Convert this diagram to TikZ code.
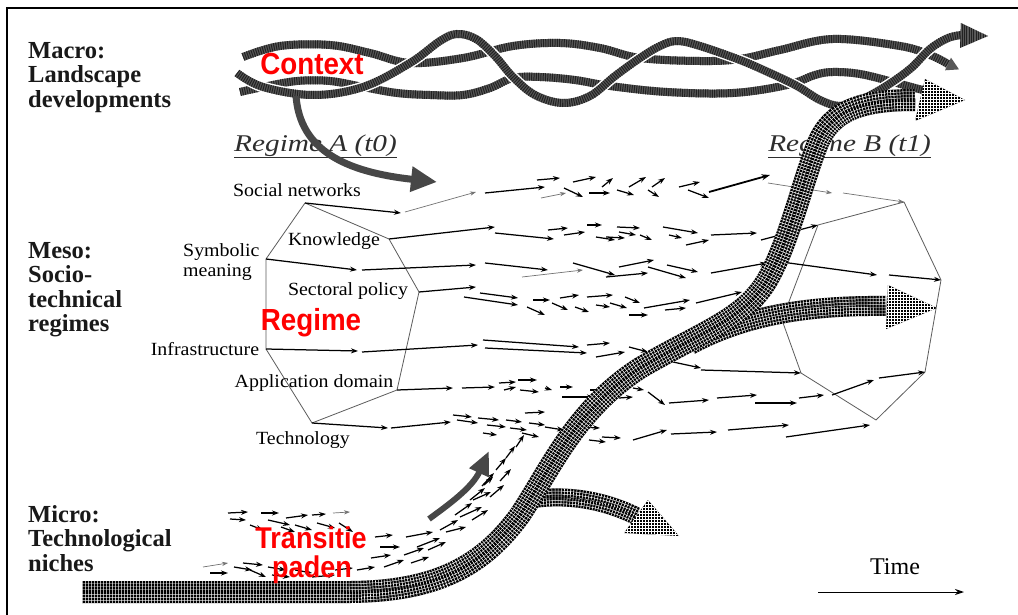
\documentclass[tikz,border=0pt]{standalone}
\usepackage{fontspec}
\setmainfont{Liberation Serif}
\newfontfamily\tagfont{Liberation Sans}
\usetikzlibrary{arrows.meta}

\definecolor{ropebase}{HTML}{575757}
\definecolor{ropeline}{HTML}{222222}
\definecolor{edgegray}{HTML}{5C5C5C}
\definecolor{cuegray}{HTML}{474747}
\definecolor{tagred}{HTML}{FF0000}
\definecolor{inkgray}{HTML}{2E2E2E}

\tikzset{
  levelname/.style={anchor=north west, inner sep=0pt, align=left, text=black!90,
    font=\bfseries\fontsize{24.5}{24.5}\selectfont},
  facet/.style={inner sep=0pt, xscale=1.07, font=\fontsize{18.6}{20}\selectfont},
  regimename/.style={anchor=base west, inner sep=0pt, xscale=1.22, text=inkgray,
    font=\itshape\fontsize{24}{26}\selectfont},
  tag/.style={anchor=base, inner sep=0pt, text=tagred, xscale=0.91,
    font=\tagfont\bfseries\fontsize{30.5}{30}\selectfont},
  bigtag/.style={anchor=base, inner sep=0pt, text=tagred, xscale=0.9,
    font=\tagfont\bfseries\fontsize{30}{30}\selectfont},
  regedge/.style={draw=edgegray, line width=0.8pt, line join=round},
  flow/.style={line width=1.25pt, -{Stealth[length=7pt,width=5pt]}},
  flowthin/.style={line width=0.7pt, draw=black!55, -{Stealth[length=6pt,width=4.2pt]}},
  flowbold/.style={line width=1.8pt, -{Stealth[length=8.5pt,width=6pt]}},
  cue/.style={draw=cuegray, line width=7pt, -{Triangle[width=24pt,length=26pt]}},
  timearrow/.style={line width=1pt, -{Stealth[length=9pt,width=6pt]}},
}

% a landscape strand: white halo, grey body, dark cross-hatching
\newcommand\braid[1]{%
  \draw[white, line width=11pt] #1;
  \draw[ropebase, line width=8pt] #1;
  \draw[ropeline, line width=8pt, dash pattern=on 1pt off 1.3pt] #1;
}
% a niche band: black body with a fine white grid
\newcommand\gridband[2]{%
  \draw[line width=#1, black] #2;
  \draw[line width={#1-5pt}, white] #2;
  \draw[line width={#1-6pt}, black] #2;
  \draw[line width={#1-11pt}, white] #2;
  \draw[line width={#1-12pt}, black] #2;
  \draw[line width={#1-17pt}, white] #2;
  \draw[line width={#1-18pt}, black] #2;
  \draw[line width=#1, white, dash pattern=on 0.55pt off 2.45pt] #2;
}
% a niche arrowhead with the same grid
\newcommand\gridhead[3]{%
  \fill[black] #1 -- #2 -- #3 -- cycle;
  \begin{scope}
    \clip #1 -- #2 -- #3 -- cycle;
    \draw[white, line width=0.5pt, step=3pt] (0,0) grid (1018,615);
  \end{scope}
}

\begin{document}
\begin{tikzpicture}[x=1pt,y=-1pt]
\useasboundingbox (0,0) rectangle (1018,615);
\fill[white] (0,0) rectangle (1018,615);

% outer frame
\coordinate (fbl) at (7,615);
\coordinate (ftl) at (7,8);
\coordinate (ftr) at (1018,8);
\draw[line width=2.6pt] (fbl) -- (ftl) -- (ftr);

% level names
\node[levelname] (macro) at (28,42) {Macro:\\Landscape\\developments};
\node[levelname] (meso) at (28,242) {Meso:\\Socio-\\technical\\regimes};
\node[levelname] (micro) at (28,505) {Micro:\\Technological\\niches};

% regime titles
\node[regimename] (regA) at (234,152) {Regime A (t0)};
\node[regimename] (regB) at (768,152) {Regime B (t1)};
\draw[inkgray, line width=0.9pt] ([yshift=-5pt]regA.base west) -- ([yshift=-5pt]regA.base east);
\draw[inkgray, line width=0.9pt] ([yshift=-5pt]regB.base west) -- ([yshift=-5pt]regB.base east);

% regime A polygon
\coordinate (aSN) at (305,203);
\coordinate (aK)  at (389,239);
\coordinate (aSP) at (419,292);
\coordinate (aAD) at (397,390);
\coordinate (aTE) at (312,423);
\coordinate (aIN) at (266,349);
\coordinate (aSM) at (266,259);
\draw[regedge] (aSN) -- (aK) -- (aSP) -- (aAD) -- (aTE) -- (aIN) -- (aSM) -- cycle;

% regime B polygon
\coordinate (bT)  at (904,202);
\coordinate (bUL) at (818,225);
\coordinate (bR)  at (941,280);
\coordinate (bL)  at (782,320);
\coordinate (bLL) at (801,373);
\coordinate (bLR) at (925,372);
\coordinate (bB)  at (876,420);
\draw[regedge] (bT) -- (bUL) -- (bL) -- (bLL) -- (bB) -- (bLR) -- (bR) -- cycle;

% facet labels
\node[facet] (fSN) at (297,190) {Social networks};
\node[facet] (fK) at (334,241) {Knowledge};
\node[facet, anchor=north west, align=left] (fSM) at (183,243) {Symbolic\\meaning};
\node[facet] (fSP) at (348,291) {Sectoral policy};
\node[facet] (fIN) at (205,349) {Infrastructure};
\node[facet] (fAD) at (314,383) {Application domain};
\node[facet] (fTE) at (303,440) {Technology};

% flows leaving the regime A facets
\draw[flow] (aSN) -- (401,213);
\draw[flow] (aK) -- (495,227);
\draw[flow] (aSM) -- (357,270);
\draw[flow] (aSP) -- (476,287);
\draw[flow] (aIN) -- (358,351);
\draw[flow] (aAD) -- (453,388);
\draw[flow] (aTE) -- (388,428);

% flows reaching the regime B facets
\draw[flowthin] (843,193) -- (bT);
\draw[flow] (761,240) -- (bUL);
\draw[flow] (889,275) -- (bR);
\draw[flow] (701,370) -- (bLL);
\draw[flow] (879,378) -- (bLR);

% social networks row
\foreach \xa/\ya/\xb/\yb in {485/193/545/187, 537/180/560/178, 573/182/596/177,
  564/188/583/197, 589/193/610/193, 602/187/613/178, 617/190/634/195, 629/187/646/177,
  648/190/659/197, 652/187/665/178, 679/187/700/182, 688/190/709/198}
  \draw[flow] (\xa,\ya) -- (\xb,\yb);
\foreach \xa/\ya/\xb/\yb in {405/212/476/192, 541/198/566/193, 768/183/832/193}
  \draw[flowthin] (\xa,\ya) -- (\xb,\yb);
\draw[flowbold] (709,192) -- (770,175);

% knowledge row
\foreach \xa/\ya/\xb/\yb in {495/233/554/239, 548/230/568/228, 564/235/585/232,
  587/225/602/225, 596/237/615/240, 606/237/625/238, 617/227/640/228, 619/232/636/235,
  640/235/652/240, 663/227/698/233, 669/235/682/238, 686/245/709/240, 711/235/757/233}
  \draw[flow] (\xa,\ya) -- (\xb,\yb);

% symbolic meaning row
\foreach \xa/\ya/\xb/\yb in {362/270/476/265, 485/263/548/270, 573/263/615/275,
  606/277/648/273, 619/267/654/260, 648/267/686/278, 667/265/698/272, 711/273/767/263,
  767/260/877/275}
  \draw[flow] (\xa,\ya) -- (\xb,\yb);
\draw[flowthin] (522,277) -- (583,270);

% sectoral policy row
\foreach \xa/\ya/\xb/\yb in {464/297/518/305, 480/293/518/298, 527/307/545/315,
  533/300/550/300, 552/303/568/310, 560/298/579/295, 575/307/589/312, 587/297/613/295,
  596/305/610/307, 610/303/627/308, 625/297/640/303, 629/315/648/315, 644/308/690/300,
  665/310/686/308, 696/303/742/292, 748/296/770/293}
  \draw[flow] (\xa,\ya) -- (\xb,\yb);

% infrastructure row
\foreach \xa/\ya/\xb/\yb in {362/352/478/345, 483/340/579/347, 485/348/587/353,
  587/345/610/343, 596/357/625/352, 629/347/648/352, 673/362/701/368}
  \draw[flow] (\xa,\ya) -- (\xb,\yb);

% application domain row
\foreach \xa/\ya/\xb/\yb in {462/388/495/387, 499/383/516/382, 504/390/516/387,
  518/380/537/380, 520/390/539/392, 545/388/552/390, 560/387/573/387, 562/397/594/397,
  590/390/610/390, 619/398/633/397, 633/388/644/390, 648/392/665/405, 669/403/709/400,
  717/398/757/395, 755/403/797/403, 799/398/824/395, 832/395/874/380}
  \draw[flow] (\xa,\ya) -- (\xb,\yb);

% technology row
\foreach \xa/\ya/\xb/\yb in {391/428/451/422, 453/415/472/417, 457/420/478/423,
  478/418/499/420, 487/425/506/427, 483/433/497/435, 506/420/522/422, 510/428/527/430,
  525/413/545/412, 522/433/539/437, 529/423/545/425, 545/427/564/430, 579/427/600/428,
  589/440/606/442, 602/437/621/438, 633/440/667/430, 671/434/717/432, 728/430/789/425,
  786/437/870/425}
  \draw[flow] (\xa,\ya) -- (\xb,\yb);

% niche swarm
\foreach \xa/\ya/\xb/\yb in {228/513/248/512, 230/519/246/520, 261/513/279/513,
  268/520/290/525, 286/518/308/515, 295/525/312/530, 312/515/326/514, 317/523/335/528,
  339/523/353/532, 250/525/263/530, 281/527/295/532,
  210/573/228/573, 234/567/252/570, 243/563/263/565, 250/570/266/577, 268/567/286/570,
  272/575/290/577, 295/570/312/573, 312/577/335/575, 335/570/353/568,
  375/537/393/535, 380/547/400/547, 406/537/433/532, 417/547/440/538, 446/532/466/527,
  460/517/482/507, 473/500/491/492, 484/485/493/477, 371/558/391/555, 384/567/404/560,
  404/555/424/548, 428/550/446/542, 357/570/375/567, 411/563/429/557,
  440/530/458/520, 455/515/472/503, 470/500/485/488, 482/486/494/473, 496/470/506/458,
  506/458/515/446, 516/447/524/435, 490/497/504/485, 472/520/488/510, 500/481/511/469}
  \draw[flow] (\xa,\ya) -- (\xb,\yb);
\foreach \xa/\ya/\xb/\yb in {333/513/350/512, 203/567/228/563}
  \draw[flowthin] (\xa,\ya) -- (\xb,\yb);

% landscape strands
\braid{plot[smooth, tension=0.6] coordinates {(240,92) (263,87) (297,81) (330,81)
  (363,87) (397,93) (430,95) (463,95) (490,88) (513,78) (540,77) (575,80) (610,86)
  (667,92) (733,93) (787,85) (815,75) (833,72) (860,74) (893,82) (915,88) (935,93)}}
\braid{plot[smooth, tension=0.6] coordinates {(243,57) (280,46) (330,45) (370,53)
  (410,63) (463,58) (513,46) (560,43) (600,48) (640,58) (700,61) (740,59) (780,50)
  (833,39) (900,46) (930,55) (948,64)}}
\fill[ropebase] (951,57.7) -- (959,69.4) -- (945,70.3) -- cycle;
\braid{plot[smooth, tension=0.6] coordinates {(237,73) (263,87) (313,95) (363,87)
  (410,63) (440,41) (457,34) (476,39) (495,56) (513,77) (535,95) (563,103) (590,96)
  (615,76) (640,58) (660,46) (677,41) (700,46) (740,60) (770,73) (797,86) (820,100)
  (840,106) (860,100) (883,88) (910,69) (930,49) (948,38) (962,35)}}
\fill[ropebase] (961,23) -- (988,36) -- (960,48) -- cycle;
\begin{scope}
  \clip (961,23) -- (988,36) -- (960,48) -- cycle;
  \foreach \gx in {960,962.3,...,990} \draw[ropeline, line width=1pt] (\gx,20) -- (\gx,50);
\end{scope}

% niche branches
\gridband{18pt}{(528,500) .. controls (560,494) and (600,498) .. (636,516)}
\gridhead{(648,500)}{(679,536)}{(624,533)}
\gridband{20pt}{(690,345) .. controls (740,318) and (800,305) .. (886,306)}
\gridhead{(888,285)}{(937,308)}{(886,329)}
\gridband{22pt}{(82,592) -- (340,592) .. controls (430,593) and (480,570) .. (520,515)
  .. controls (550,470) and (575,410) .. (640,368) .. controls (705,330) and (748,318) .. (770,275)
  .. controls (790,238) and (803,180) .. (818,143) .. controls (832,110) and (862,100) .. (915,100)}
\gridhead{(925,79)}{(965,100)}{(915,121)}

% pressure cues
\coordinate (ctxfrom) at (296,96);
\coordinate (ctxto) at (437,182);
\draw[cue] (ctxfrom) .. controls (300,150) and (345,172) .. (ctxto);
\coordinate (trfrom) at (429,519);
\coordinate (trto) at (489,451);
\draw[cue, line width=6pt, -{Triangle[width=20pt,length=24pt]}] (trfrom) .. controls (448,505) and (472,488) .. (trto);

% red tags
\node[tag] (ctx) at (312,75) {Context};
\node[tag] (reg) at (311,330) {Regime};
\node[bigtag] (tra) at (311,548) {Transitie};
\node[bigtag] (pad) at (312,577) {paden};

% time axis
\node[inner sep=0pt, font=\fontsize{24}{26}\selectfont] (time) at (895,567) {Time};
\coordinate (tstart) at (818,592);
\coordinate (tend) at (964,592);
\draw[timearrow] (tstart) -- (tend);
\end{tikzpicture}
\end{document}
